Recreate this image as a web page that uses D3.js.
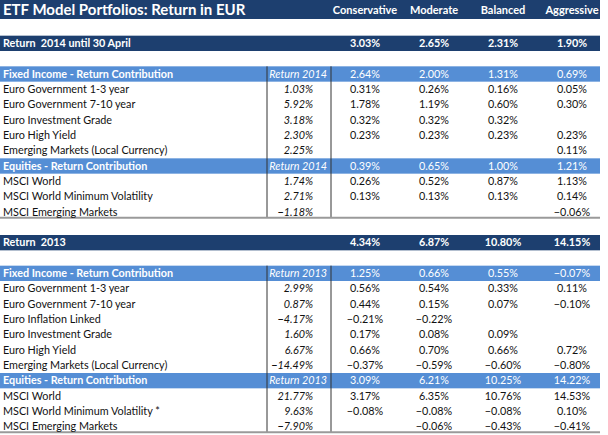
<!DOCTYPE html>
<html><head><meta charset="utf-8">
<script src="https://cdn.jsdelivr.net/npm/d3@7"></script>
<style>
html,body{margin:0;padding:0;background:#fff;}
text{font-family:Lato,"Open Sans",sans-serif;white-space:pre;}
</style></head>
<body><svg id="c" width="608" height="435"></svg>
<script>
const title = "ETF Model Portfolios: Return in EUR";
const portfolios = ["Conservative","Moderate","Balanced","Aggressive"];

const total2014Label = "Return  2014 until 30 April";
const total2014 = [3.03, 2.65, 2.31, 1.90];
const fiLabel = "Fixed Income - Return Contribution";
const eqLabel = "Equities - Return Contribution";

const fi2014Total = [2.64, 2.00, 1.31, 0.69];
const fi2014Names = ["Euro Government 1-3 year","Euro Government 7-10 year","Euro Investment Grade","Euro High Yield","Emerging Markets (Local Currency)"];
const fi2014Returns = [1.03, 5.92, 3.18, 2.30, 2.25];
const fi2014Contrib = [[0.31,0.26,0.16,0.05],[1.78,1.19,0.60,0.30],[0.32,0.32,0.32,null],[0.23,0.23,0.23,0.23],[null,null,null,0.11]];

const eq2014Total = [0.39, 0.65, 1.00, 1.21];
const eq2014Names = ["MSCI World","MSCI World Minimum Volatility","MSCI Emerging Markets"];
const eq2014Returns = [1.74, 2.71, -1.18];
const eq2014Contrib = [[0.26,0.52,0.87,1.13],[0.13,0.13,0.13,0.14],[null,null,null,-0.06]];

const total2013Label = "Return  2013";
const total2013 = [4.34, 6.87, 10.80, 14.15];

const fi2013Total = [1.25, 0.66, 0.55, -0.07];
const fi2013Names = ["Euro Government 1-3 year","Euro Government 7-10 year","Euro Inflation Linked","Euro Investment Grade","Euro High Yield","Emerging Markets (Local Currency)"];
const fi2013Returns = [2.99, 0.87, -4.17, 1.60, 6.67, -14.49];
const fi2013Contrib = [[0.56,0.54,0.33,0.11],[0.44,0.15,0.07,-0.10],[-0.21,-0.22,null,null],[0.17,0.08,0.09,null],[0.66,0.70,0.66,0.72],[-0.37,-0.59,-0.60,-0.80]];

const eq2013Total = [3.09, 6.21, 10.25, 14.22];
const eq2013Names = ["MSCI World","MSCI World Minimum Volatility *","MSCI Emerging Markets"];
const eq2013Returns = [21.77, 9.63, -7.90];
const eq2013Contrib = [[3.17,6.35,10.76,14.53],[-0.08,-0.08,-0.08,0.10],[null,-0.06,-0.43,-0.41]];

// ---- build row list ----
const rows = [];
let idx = 2;
function addSection(totLabel, tot, fiTot, fiNames, fiRet, fiC, eqTot, eqNames, eqRet, eqC, year){
  rows.push({type:"total", i:idx, label:totLabel, values:tot}); idx += 2;
  const start = idx;
  rows.push({type:"header", i:idx++, label:fiLabel, ret:"Return "+year, values:fiTot});
  fiNames.forEach((n,k)=>rows.push({type:"row", i:idx++, label:n, ret:fiRet[k], values:fiC[k]}));
  rows.push({type:"header", i:idx++, label:eqLabel, ret:"Return "+year, values:eqTot});
  eqNames.forEach((n,k)=>rows.push({type:"row", i:idx++, label:n, ret:eqRet[k], values:eqC[k]}));
  const sec = {start:start, end:idx-1};
  idx += 1;
  return sec;
}
const sections = [];
sections.push(addSection(total2014Label,total2014,fi2014Total,fi2014Names,fi2014Returns,fi2014Contrib,eq2014Total,eq2014Names,eq2014Returns,eq2014Contrib,"2014"));
sections.push(addSection(total2013Label,total2013,fi2013Total,fi2013Names,fi2013Returns,fi2013Contrib,eq2013Total,eq2013Names,eq2013Returns,eq2013Contrib,"2013"));

// ---- scales ----
const W = 608, H = 435, right = 600;
const y = d3.scaleLinear().domain([4,13]).range([74,212]);
const x = d3.scalePoint().domain(portfolios).range([365,572]);
const rh = 15.33;
const xLab = 3, xV1 = 267, xV2 = 331, xRet = 313;
const fmt = v => v==null ? "" : d3.format(".2f")(v) + "%";

const DARK = "#1d3f6f", LIGHT = "#558ed5", TXT = "#111";
const FS = 10.8;
const svg = d3.select("#c");

// title bar
svg.append("rect").attr("x",0).attr("y",0).attr("width",right).attr("height",19).attr("fill",DARK);
svg.append("text").attr("x",xLab).attr("y",14.8).attr("fill","#fff").attr("font-weight","bold").attr("font-size",15).text(title);
svg.selectAll("text.ph").data(portfolios).join("text").attr("class","ph")
  .attr("x",d=>x(d)).attr("y",14).attr("text-anchor","middle").attr("fill","#fff")
  .attr("font-weight","bold").attr("font-size",11).text(d=>d);

// bands
svg.selectAll("rect.band").data(rows.filter(r=>r.type!=="row")).join("rect").attr("class","band")
  .attr("x",0).attr("width",right)
  .attr("y",r=>y(r.i)-rh/2).attr("height",r=>rh)
  .attr("fill",r=>r.type==="total"?DARK:LIGHT);

// section lines
sections.forEach(s=>{
  [xV1,xV2].forEach(xx=>svg.append("line").attr("x1",xx).attr("x2",xx)
    .attr("y1",y(s.start)-rh/2).attr("y2",y(s.end)+rh/2-2).attr("stroke","#333").attr("stroke-width",1));
  svg.append("line").attr("x1",0).attr("x2",right).attr("y1",y(s.end)+rh/2-2).attr("y2",y(s.end)+rh/2-2)
    .attr("stroke","#9a9a9a").attr("stroke-width",2);
});

// labels
const g = svg.selectAll("g.r").data(rows).join("g").attr("class","r")
  .attr("transform",r=>`translate(0,${y(r.i)+3.8})`);
g.append("text").attr("x",xLab).attr("font-size",FS)
  .attr("fill",r=>r.type==="row"?TXT:"#fff")
  .attr("font-weight",r=>r.type==="row"?"normal":"bold").text(r=>r.label);
g.filter(r=>r.type!=="total").append("text").attr("font-size",FS).attr("font-style","italic")
  .attr("x",r=>r.type==="header"?327:xRet).attr("text-anchor","end")
  .attr("fill",r=>r.type==="row"?TXT:"#fff")
  .text(r=>r.type==="header"?r.ret:fmt(r.ret));
g.each(function(r){
  d3.select(this).selectAll("text.v").data(r.values.map((v,k)=>({v:v,p:portfolios[k]}))).join("text").attr("class","v")
    .attr("x",d=>x(d.p)).attr("text-anchor","middle").attr("font-size",FS)
    .attr("font-weight",r.type==="total"?"bold":"normal")
    .attr("fill",r.type==="row"?TXT:"#fff").text(d=>fmt(d.v));
});
</script></body></html>
